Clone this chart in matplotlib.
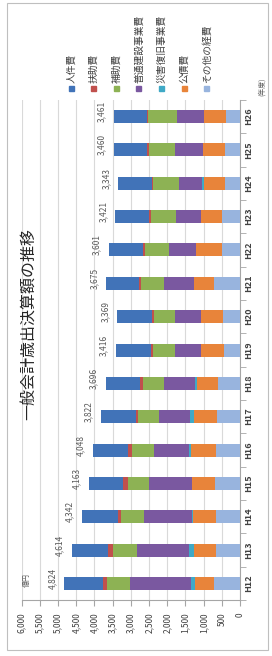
import numpy as np
import matplotlib
matplotlib.use('Agg')
import matplotlib.pyplot as plt
from matplotlib.patches import Rectangle

plt.rcParams['font.family'] = ['Noto Sans CJK JP', 'DejaVu Sans']

# 年度 (H12 .. H26)
years = ['H12', 'H13', 'H14', 'H15', 'H16', 'H17', 'H18', 'H19',
         'H20', 'H21', 'H22', 'H23', 'H24', 'H25', 'H26']
totals = [4824, 4614, 4342, 4163, 4048, 3822, 3696, 3416,
          3369, 3675, 3601, 3421, 3343, 3460, 3461]

# 億円 (stacked from 0 outwards)
sonota   = [714, 668, 668, 687, 659, 624, 596, 448, 475, 706, 495, 486, 420, 420, 385]
kousai   = [522, 588, 632, 624, 695, 632, 593, 624, 588, 558, 714, 585, 569, 588, 604]
saigai   = [110, 146, 10, 20, 38, 118, 55, 5, 5, 5, 5, 5, 63, 5, 5]
futsuu   = [1676, 1437, 1330, 1181, 970, 843, 835, 723, 714, 816, 750, 695, 615, 769, 750]
hojo     = [640, 643, 621, 577, 613, 577, 593, 588, 585, 632, 651, 679, 714, 731, 780]
fujo     = [93, 137, 93, 121, 93, 63, 74, 63, 47, 71, 63, 47, 44, 55, 30]
jinken   = [1069, 995, 998, 953, 980, 965, 950, 970, 960, 892, 928, 929, 918, 897, 912]

labels = ['人件費', '扶助費', '補助費', '普通建設事業費', '災害復旧事業費', '公債費', 'その他の経費']
colors = ['#4173B8', '#C0504D', '#8DB254', '#7A58A0', '#3FA9C6', '#E8843A', '#98B4DE']

# stacking order from zero: その他 -> 公債費 -> 災害 -> 普通建設 -> 補助 -> 扶助 -> 人件
stack = [(sonota, 6), (kousai, 5), (saigai, 4), (futsuu, 3), (hojo, 2), (fujo, 1), (jinken, 0)]

W, H = 272, 656
fig = plt.figure(figsize=(W / 100, H / 100), dpi=100)
ax = fig.add_axes([21.7 / W, 56 / H, (240 - 21.7) / W, 500 / H])

y = np.arange(len(years))
left = np.zeros(len(years))
for vals, k in stack:
    ax.barh(y, vals, left=left, height=0.39, color=colors[k], zorder=3)
    left += np.array(vals)

for i, t in enumerate(totals):
    ax.text(t + 330, i + 0.15, f'{t:,}', rotation=90, ha='center', va='center',
            fontsize=6, color='#595959', zorder=4)

ax.set_xlim(6000, 0)
ax.set_ylim(-0.5, len(years) - 0.5)
ax.set_xticks(np.arange(0, 6001, 500))
ax.set_xticklabels([f'{v:,}' for v in range(0, 6001, 500)], rotation=90,
                   fontsize=6, color='#404040')
ax.tick_params(axis='x', length=4, color='#A6A6A6', pad=5)
ax.grid(axis='x', color='#D9D9D9', lw=0.8, zorder=0)

ax.yaxis.tick_right()
ax.set_yticks(y)
ax.set_yticklabels(years, rotation=90, va='center', fontsize=6.5,
                   fontweight='bold', color='#404040')
ax.tick_params(axis='y', which='major', length=0, pad=3)
ax.set_yticks(np.arange(-0.5, len(years), 1), minor=True)
ax.tick_params(axis='y', which='minor', length=4, color='#A6A6A6')

for s in ['left', 'top']:
    ax.spines[s].set_visible(False)
ax.spines['right'].set_color('#A6A6A6')
ax.spines['bottom'].set_color('#A6A6A6')
ax.spines['right'].set_linewidth(0.8)
ax.spines['bottom'].set_linewidth(0.8)

# title
fig.text(28 / W, 1 - 324 / H, '一般会計歳出決算額の推移', rotation=90,
         ha='center', va='center', fontsize=11.5, color='#262626')
# unit labels
fig.text(27 / W, 1 - 580 / H, '億円', rotation=90, ha='center', va='center',
         fontsize=5, color='#595959')
fig.text(262 / W, 1 - 87 / H, '(年度)', rotation=90, ha='center', va='center',
         fontsize=5, color='#595959')

# legend (rotated)
for k, (lab, c) in enumerate(zip(labels, colors)):
    xc = 71 + k * 22.6
    fig.patches.append(Rectangle(((xc - 2.5) / W, 1 - 90.5 / H), 5 / W, 5 / H,
                                 transform=fig.transFigure, color=c))
    fig.text(xc / W, 1 - 83 / H, lab, rotation=90, ha='center', va='bottom',
             fontsize=7, color='#404040')

# outer frame
fig.patches.append(Rectangle((7 / W, 1 - 650 / H), 261 / W, 647 / H, fill=False,
                             transform=fig.transFigure, edgecolor='#BFBFBF', lw=0.8))

fig.savefig('out.png', dpi=100)
